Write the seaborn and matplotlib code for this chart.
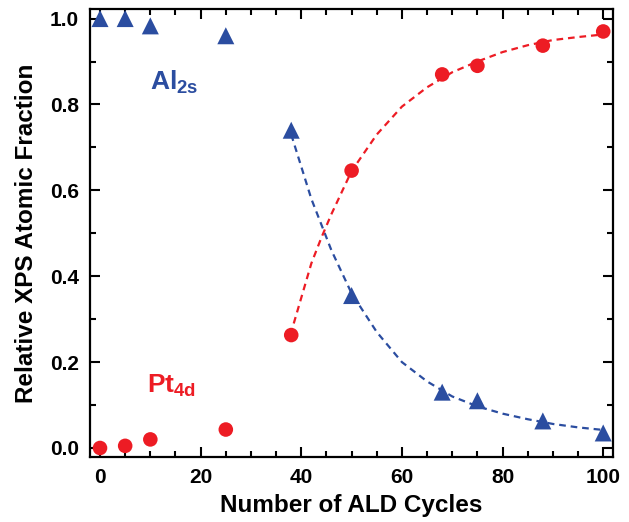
import numpy as np
import pandas as pd
import matplotlib
matplotlib.use("Agg")
import matplotlib.pyplot as plt
from matplotlib.ticker import MultipleLocator
import seaborn as sns

# measured points
cycles = [0, 5, 10, 25, 38, 50, 68, 75, 88, 100]
al_frac = [1.0, 1.0, 0.983, 0.96, 0.74, 0.355, 0.13, 0.11, 0.063, 0.035]
pt_frac = [0.0, 0.005, 0.02, 0.043, 0.263, 0.646, 0.87, 0.89, 0.937, 0.97]

# dashed fit curves
fit_x_al = [38, 42, 46, 50, 55, 60, 65, 70, 75, 80, 85, 90, 95, 100]
fit_al = [0.73, 0.58, 0.46, 0.36, 0.27, 0.20, 0.155, 0.12, 0.097, 0.08,
          0.067, 0.056, 0.048, 0.042]
fit_x_pt = [38.5, 40, 42, 44, 46, 50, 55, 60, 65, 70, 75, 80, 85, 90, 95, 100]
fit_pt = [0.29, 0.35, 0.43, 0.49, 0.545, 0.645, 0.73, 0.795, 0.84, 0.875,
          0.90, 0.922, 0.938, 0.95, 0.957, 0.963]

BLUE = "#2B4DA0"
RED = "#ED1C24"

sns.set_style("ticks")
plt.rcParams["font.family"] = ["Liberation Sans", "DejaVu Sans"]
plt.rcParams["font.weight"] = "bold"
plt.rcParams["mathtext.fontset"] = "custom"
plt.rcParams["mathtext.rm"] = "Liberation Sans:bold"
plt.rcParams["mathtext.it"] = "Liberation Sans:bold"
plt.rcParams["mathtext.bf"] = "Liberation Sans:bold"
for key in ["text.color", "axes.labelcolor", "xtick.color", "ytick.color"]:
    plt.rcParams[key] = "black"

pts = pd.DataFrame({"cycles": cycles, "al": al_frac, "pt": pt_frac})
fit_al_df = pd.DataFrame({"x": fit_x_al, "y": fit_al})
fit_pt_df = pd.DataFrame({"x": fit_x_pt, "y": fit_pt})

fig = plt.figure(figsize=(6.29, 5.22), dpi=100)
ax = fig.add_axes([0.143, 0.1245, 0.832, 0.8585])

sns.lineplot(data=fit_al_df, x="x", y="y", ax=ax, color=BLUE,
             linewidth=1.6, dashes=False, linestyle=(0, (3, 2.2)))
sns.lineplot(data=fit_pt_df, x="x", y="y", ax=ax, color=RED,
             linewidth=1.6, dashes=False, linestyle=(0, (3, 2.2)))
sns.scatterplot(data=pts, x="cycles", y="al", ax=ax, marker="^",
                s=150, color=BLUE, edgecolor="none", zorder=3)
sns.scatterplot(data=pts, x="cycles", y="pt", ax=ax, marker="o",
                s=110, color=RED, edgecolor="none", zorder=3)

ax.text(9.9, 0.834, r"Al$_{\mathrm{2s}}$", color=BLUE, fontsize=19,
        fontweight="bold")
ax.text(9.3, 0.128, r"Pt$_{\mathrm{4d}}$", color=RED, fontsize=19,
        fontweight="bold")

ax.set_xlim(-2, 102)
ax.set_ylim(-0.021, 1.0226)
ax.xaxis.set_major_locator(MultipleLocator(20))
ax.xaxis.set_minor_locator(MultipleLocator(5))
ax.yaxis.set_major_locator(MultipleLocator(0.2))
ax.yaxis.set_minor_locator(MultipleLocator(0.1))
ax.yaxis.set_major_formatter(matplotlib.ticker.FormatStrFormatter("%.1f"))
ax.tick_params(which="both", direction="in", top=True, right=True,
               width=1.5, labelsize=15, pad=8, colors="black")
ax.tick_params(which="major", length=7)
ax.tick_params(which="minor", length=4)
ax.tick_params(axis="x", labeltop=False)
ax.tick_params(axis="y", labelright=False)
for sp in ax.spines.values():
    sp.set_visible(True)
    sp.set_linewidth(1.6)
    sp.set_color("black")

ax.set_xlabel("Number of ALD Cycles", fontsize=17.5, fontweight="bold",
              labelpad=5)
ax.set_ylabel("Relative XPS Atomic Fraction", fontsize=17.5,
              fontweight="bold")
ax.yaxis.set_label_coords(-0.10, 0.5)

fig.savefig("out.png", dpi=100)
